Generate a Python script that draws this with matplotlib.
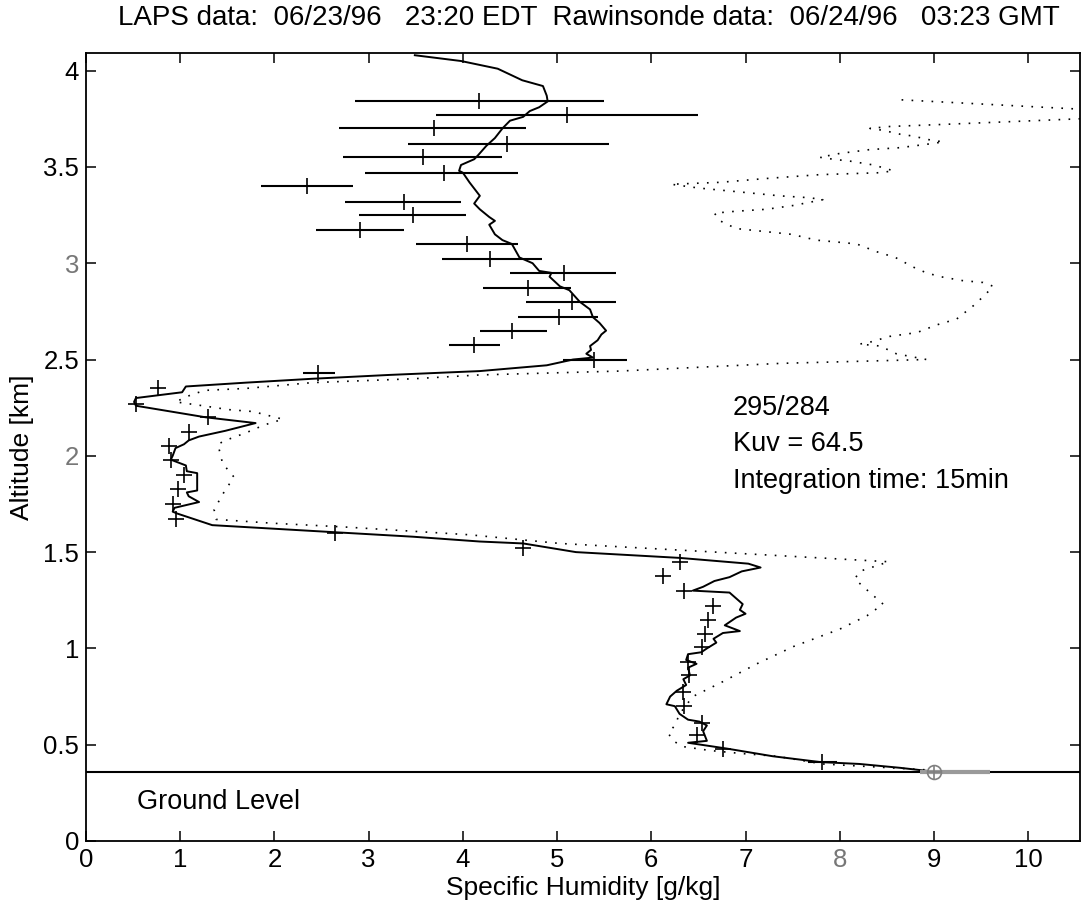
import matplotlib
matplotlib.use("Agg")
import matplotlib.pyplot as plt
import numpy as np

plt.rcParams['font.family'] = ['Liberation Sans', 'DejaVu Sans']

title = "LAPS data:  06/23/96   23:20 EDT  Rawinsonde data:  06/24/96   03:23 GMT"
xlabel = "Specific Humidity [g/kg]"
ylabel = "Altitude [km]"
info_lines = ["295/284", "Kuv = 64.5", "Integration time: 15min"]
ground_text = "Ground Level"

x_ticks = [0, 1, 2, 3, 4, 5, 6, 7, 8, 9, 10]
y_ticks = [0, 0.5, 1, 1.5, 2, 2.5, 3, 3.5, 4]

# lidar profile (solid line): specific humidity [g/kg], altitude [km]
lidar_q = [3.49, 3.98, 4.37, 4.63, 4.85, 4.89, 4.90, 4.81, 4.71, 4.64, 4.50, 4.42,
           4.34, 4.25, 4.16, 4.12, 3.98, 3.96, 4.00, 4.07, 4.18, 4.12, 4.18, 4.28,
           4.34, 4.28, 4.34, 4.42, 4.52, 4.60, 4.74, 4.81, 4.94, 4.92, 5.03, 5.13,
           5.24, 5.35, 5.38, 5.45, 5.52, 5.47, 5.43, 5.35, 5.36, 5.31, 5.38, 5.17,
           4.89, 4.18, 3.22, 2.40, 1.70, 1.06, 1.02, 0.53, 0.51, 0.53, 1.27, 1.80,
           1.48, 1.20, 1.09, 1.04, 0.95, 0.92, 0.90, 1.06, 1.07, 1.18, 1.18, 1.07,
           1.09, 1.20, 0.94, 0.92, 0.97, 1.34, 2.40, 3.47, 4.18, 4.64, 5.20, 6.30,
           7.03, 7.16, 6.96, 6.83, 6.67, 6.55, 6.44, 6.83, 6.97, 6.94, 7.00, 6.90,
           6.78, 6.94, 6.76, 6.66, 6.69, 6.59, 6.53, 6.39, 6.37, 6.48, 6.39, 6.41,
           6.34, 6.37, 6.27, 6.20, 6.16, 6.25, 6.30, 6.39, 6.51, 6.59, 6.55, 6.59,
           6.39, 6.80, 7.29, 7.79, 8.21, 8.64, 9.00]
lidar_z = [4.08, 4.05, 4.01, 3.95, 3.92, 3.87, 3.84, 3.81, 3.79, 3.76, 3.74, 3.70,
           3.65, 3.61, 3.56, 3.54, 3.51, 3.48, 3.47, 3.42, 3.35, 3.31, 3.28, 3.24,
           3.22, 3.20, 3.15, 3.12, 3.10, 3.03, 3.00, 2.96, 2.95, 2.93, 2.88, 2.86,
           2.80, 2.76, 2.72, 2.69, 2.65, 2.63, 2.60, 2.57, 2.55, 2.53, 2.51, 2.50,
           2.47, 2.44, 2.42, 2.40, 2.38, 2.36, 2.33, 2.30, 2.28, 2.26, 2.20, 2.17,
           2.13, 2.10, 2.08, 2.06, 2.04, 2.00, 1.98, 1.95, 1.92, 1.91, 1.82, 1.81,
           1.79, 1.76, 1.73, 1.71, 1.70, 1.64, 1.61, 1.58, 1.555, 1.545, 1.50, 1.47,
           1.44, 1.42, 1.40, 1.37, 1.35, 1.32, 1.30, 1.29, 1.23, 1.20, 1.18, 1.16,
           1.12, 1.09, 1.08, 1.05, 1.03, 1.00, 0.98, 0.97, 0.94, 0.92, 0.90, 0.86,
           0.84, 0.81, 0.78, 0.75, 0.71, 0.70, 0.66, 0.63, 0.62, 0.60, 0.57, 0.52,
           0.51, 0.48, 0.44, 0.41, 0.40, 0.38, 0.36]

# rawinsonde profile (dotted line)
sonde_q = [8.90, 7.82, 7.33, 6.94, 6.62, 6.34, 6.23, 6.18, 6.25, 6.30, 6.44, 6.73,
           7.12, 7.51, 8.00, 8.29, 8.46, 8.32, 8.16, 8.21, 8.52, 5.03, 4.07, 2.76,
           1.98, 1.38, 1.36, 1.45, 1.57, 1.45, 1.40, 1.48, 1.70, 1.89, 2.09, 1.77,
           1.51, 1.24, 0.95, 1.13, 1.27, 1.70, 2.40, 3.47, 4.18, 5.66, 7.37, 8.92,
           8.60, 8.43, 8.21, 8.32, 8.53, 8.82, 9.03, 9.24, 9.42, 9.53, 9.63, 9.52,
           9.30, 9.07, 8.92, 8.78, 8.59, 8.39, 8.18, 7.97, 7.75, 7.49, 6.90, 6.73,
           6.67, 6.90, 7.22, 7.51, 7.82, 7.68, 7.36, 6.94, 6.51, 6.21, 6.73, 7.22,
           7.79, 8.43, 8.57, 8.36, 8.11, 7.93, 7.79, 8.00, 8.32, 8.64, 8.96, 9.10,
           8.96, 8.78, 8.64, 8.46, 8.32, 8.53, 9.06, 10.55, 10.90, 10.90, 10.55, 8.59]
sonde_z = [0.37, 0.40, 0.44, 0.455, 0.47, 0.49, 0.52, 0.56, 0.60, 0.66, 0.75, 0.82,
           0.92, 1.01, 1.10, 1.17, 1.23, 1.29, 1.36, 1.40, 1.45, 1.545, 1.59, 1.63,
           1.65, 1.67, 1.72, 1.80, 1.89, 1.96, 2.06, 2.08, 2.12, 2.16, 2.19, 2.23,
           2.24, 2.26, 2.28, 2.32, 2.34, 2.35, 2.38, 2.40, 2.42, 2.44, 2.48, 2.50,
           2.53, 2.57, 2.58, 2.59, 2.62, 2.64, 2.68, 2.71, 2.78, 2.83, 2.88, 2.90,
           2.91, 2.93, 2.95, 2.98, 3.03, 3.06, 3.10, 3.11, 3.12, 3.15, 3.18, 3.22,
           3.26, 3.27, 3.28, 3.30, 3.33, 3.34, 3.35, 3.37, 3.39, 3.41, 3.42, 3.44,
           3.46, 3.47, 3.48, 3.51, 3.53, 3.54, 3.55, 3.57, 3.59, 3.60, 3.62, 3.63,
           3.64, 3.66, 3.67, 3.69, 3.70, 3.71, 3.72, 3.75, 3.77, 3.79, 3.80, 3.85]

# retrieved points with horizontal error bars (centre, lower end, upper end)
pt_q = [4.17, 5.10, 3.69, 4.47, 3.58, 3.80, 2.35, 3.37, 3.47, 2.91, 4.04, 4.29,
        5.07, 4.69, 5.16, 5.02, 4.52, 4.12, 5.39, 2.46,
        0.76, 0.53, 1.29, 1.09, 0.88, 0.90, 1.04, 0.98, 0.92, 0.96, 2.64, 4.64,
        6.30, 6.12, 6.35, 6.66, 6.60, 6.57, 6.54, 6.39, 6.40, 6.34, 6.35, 6.54,
        6.48, 6.76, 7.81]
pt_z = [3.84, 3.77, 3.70, 3.62, 3.55, 3.47, 3.40, 3.32, 3.25, 3.17, 3.10, 3.02,
        2.95, 2.87, 2.80, 2.72, 2.65, 2.575, 2.50, 2.43,
        2.35, 2.27, 2.20, 2.125, 2.05, 1.98, 1.90, 1.83, 1.75, 1.67, 1.60, 1.52,
        1.45, 1.376, 1.30, 1.22, 1.15, 1.075, 1.005, 0.93, 0.86, 0.775, 0.70, 0.615,
        0.55, 0.48, 0.41]
pt_lo = [2.86, 3.72, 2.68, 3.42, 2.73, 2.96, 1.86, 2.75, 2.90, 2.44, 3.50, 3.78,
         4.50, 4.21, 4.67, 4.58, 4.18, 3.85, 5.06, 2.30,
         0.76, 0.53, 1.29, 1.09, 0.88, 0.90, 1.04, 0.98, 0.92, 0.96, 2.64, 4.64,
         6.30, 6.12, 6.35, 6.66, 6.60, 6.57, 6.54, 6.39, 6.40, 6.34, 6.35, 6.54,
         6.48, 6.76, 7.66]
pt_hi = [5.50, 6.50, 4.67, 5.55, 4.41, 4.59, 2.83, 3.98, 4.03, 3.38, 4.58, 4.84,
         5.63, 5.15, 5.63, 5.43, 4.89, 4.39, 5.74, 2.64,
         0.76, 0.53, 1.29, 1.09, 0.88, 0.90, 1.04, 0.98, 0.92, 0.96, 2.64, 4.64,
         6.30, 6.12, 6.35, 6.66, 6.60, 6.57, 6.54, 6.39, 6.40, 6.34, 6.35, 6.54,
         6.48, 6.76, 7.97]

ground_z = 0.36
surface_q = 9.0
surface_band = [8.85, 9.6]

W, H = 1082, 909
fig = plt.figure(figsize=(W / 100, H / 100), dpi=100)
ax_l, ax_r, ax_t, ax_b = 86, 1080, 53.3, 841
ax = fig.add_axes([ax_l / W, (H - ax_b) / H, (ax_r - ax_l) / W, (ax_b - ax_t) / H])

ax.plot(lidar_q, lidar_z, color='k', lw=1.4, zorder=3)
ax.plot(sonde_q, sonde_z, color='k', lw=1.2, linestyle=(0, (1, 5)), zorder=2)

q = np.array(pt_q)
xerr = [q - np.array(pt_lo), np.array(pt_hi) - q]
ax.errorbar(pt_q, pt_z, xerr=xerr, fmt='+', color='k', ms=11, mew=1.2,
            elinewidth=1.5, capsize=0, zorder=4)

ax.axhline(ground_z, color='k', lw=1.5, zorder=2)
ax.plot(surface_band, [ground_z, ground_z], color='#9a9a9a', lw=3, zorder=3,
        solid_capstyle='butt')
ax.plot([surface_q], [ground_z], marker='o', mfc='none', mec='#808080', ms=10,
        mew=1.2, zorder=5)
ax.plot([surface_q], [ground_z], marker='+', color='#808080', ms=10, mew=1.2,
        zorder=5)

ax.text(0.54, 0.20, ground_text, fontsize=19.5, va='center', ha='left')
for i, s in enumerate(info_lines):
    ax.text(6.865, 2.25 - i * 0.19, s, fontsize=19.5, va='center', ha='left')

ax.set_xlim(0, 10.55)
ax.set_ylim(0, 4.09)
ax.set_xticks(x_ticks)
ax.set_yticks(y_ticks)
ax.set_xticklabels([str(t) for t in x_ticks])
ax.set_yticklabels(['0', '0.5', '1', '1.5', '2', '2.5', '3', '3.5', '4'])
ax.tick_params(direction='in', top=True, right=True, length=7, width=1.1,
               labelsize=18.5, pad=5)
for lab in ax.get_xticklabels():
    if lab.get_text() == '8':
        lab.set_color('#777777')
for lab in ax.get_yticklabels():
    if lab.get_text() in ('2', '3'):
        lab.set_color('#777777')
for sp in ax.spines.values():
    sp.set_linewidth(1.3)

ax.set_xlabel(xlabel, fontsize=19, labelpad=2)
ax.set_ylabel(ylabel, fontsize=19)
ax.yaxis.set_label_coords(-0.052, 0.5)
ax.xaxis.set_label_coords(0.5, -0.044)

fig.text(589 / W, 1 - 18 / H, title, fontsize=20, ha='center', va='center')

fig.savefig('out.png', dpi=100)
